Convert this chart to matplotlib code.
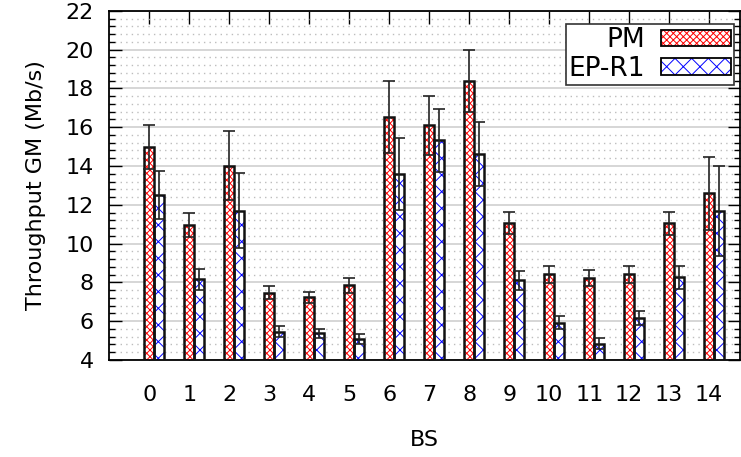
import numpy as np
import matplotlib
matplotlib.use("Agg")
import matplotlib.pyplot as plt
from matplotlib.ticker import MultipleLocator
from matplotlib.patches import Patch
from matplotlib.legend_handler import HandlerTuple

# data
bs = list(range(15))
pm = [15.0, 10.94, 14.02, 7.47, 7.23, 7.85, 16.54, 16.11, 18.40, 11.08, 8.42, 8.23, 8.42, 11.04, 12.59]
pm_err = [1.13, 0.62, 1.76, 0.33, 0.27, 0.40, 1.85, 1.52, 1.60, 0.57, 0.43, 0.41, 0.43, 0.60, 1.87]
ep = [12.52, 8.16, 11.70, 5.46, 5.37, 5.07, 13.59, 15.32, 14.64, 8.10, 5.92, 4.84, 6.15, 8.26, 11.66]
ep_err = [1.23, 0.53, 1.94, 0.30, 0.23, 0.25, 1.87, 1.61, 1.65, 0.49, 0.34, 0.27, 0.36, 0.58, 2.32]

plt.rcParams['font.family'] = 'DejaVu Sans'
plt.rcParams['hatch.linewidth'] = 0.7

fig = plt.figure(figsize=(7.41, 4.57), dpi=100)
ax = fig.add_axes([0.1475, 0.2123, 0.8511, 0.7641])

x = np.array(bs, dtype=float)
w = 0.25
pm_hatch = 'xxxxx'
ep_hatch = 'xx'

# grid
ax.yaxis.set_major_locator(MultipleLocator(2))
ax.yaxis.set_minor_locator(MultipleLocator(0.4))
ax.grid(axis='y', which='major', color='#d0d0d0', lw=1.2, ls='-', zorder=0)
ax.grid(axis='y', which='minor', color='#bdbdbd', lw=1.0, ls=(0, (1, 3)), zorder=0)
ax.set_axisbelow(True)

# hatched bars, then black outlines on top
ax.bar(x, pm, w, color='white', edgecolor='red', hatch=pm_hatch, lw=0, zorder=2)
ax.bar(x + w, ep, w, color='white', edgecolor='blue', hatch=ep_hatch, lw=0, zorder=2)
ax.bar(x, pm, w, color='none', edgecolor='#111111', lw=1.8, zorder=3)
ax.bar(x + w, ep, w, color='none', edgecolor='#111111', lw=1.8, zorder=3)

ax.errorbar(x, pm, yerr=pm_err, fmt='none', ecolor='#222222', elinewidth=1.2,
            capsize=4.5, capthick=1.2, zorder=4)
ax.errorbar(x + w, ep, yerr=ep_err, fmt='none', ecolor='#222222', elinewidth=1.2,
            capsize=4.5, capthick=1.2, zorder=4)

ax.set_xlim(-1.0, 14.77)
ax.set_ylim(4, 22)
ax.set_xticks(bs)
ax.set_xticklabels([str(b) for b in bs])

ax.tick_params(axis='both', which='major', direction='in', length=9, width=1,
               labelsize=16, top=True, right=True)
ax.tick_params(axis='y', which='minor', direction='in', length=4.5, width=1, right=True)
ax.tick_params(axis='x', which='major', pad=18)
ax.tick_params(axis='y', which='major', pad=11)
for s in ax.spines.values():
    s.set_linewidth(1.3)

ax.set_xlabel("BS", fontsize=16, labelpad=18)
ax.set_ylabel("Throughput GM (Mb/s)", fontsize=16, labelpad=14)

# legend: label on the left, hatched swatch with black outline on the right
pm_h = (Patch(facecolor='white', edgecolor='red', hatch=pm_hatch, lw=0),
        Patch(facecolor='none', edgecolor='black', lw=1.3))
ep_h = (Patch(facecolor='white', edgecolor='blue', hatch=ep_hatch, lw=0),
        Patch(facecolor='none', edgecolor='black', lw=1.3))
leg = ax.legend([pm_h, ep_h], ["PM", "EP-R1"], loc='upper right',
                bbox_to_anchor=(0.991, 0.962), handler_map={tuple: HandlerTuple(ndivide=1)},
                fontsize=19, markerfirst=False, fancybox=False, framealpha=1,
                edgecolor='#333333', handlelength=2.65, handleheight=0.57,
                borderaxespad=0, labelspacing=0.1, handletextpad=0.6, borderpad=0.12)
leg.get_frame().set_linewidth(1.2)

fig.savefig("out.png", dpi=100)
